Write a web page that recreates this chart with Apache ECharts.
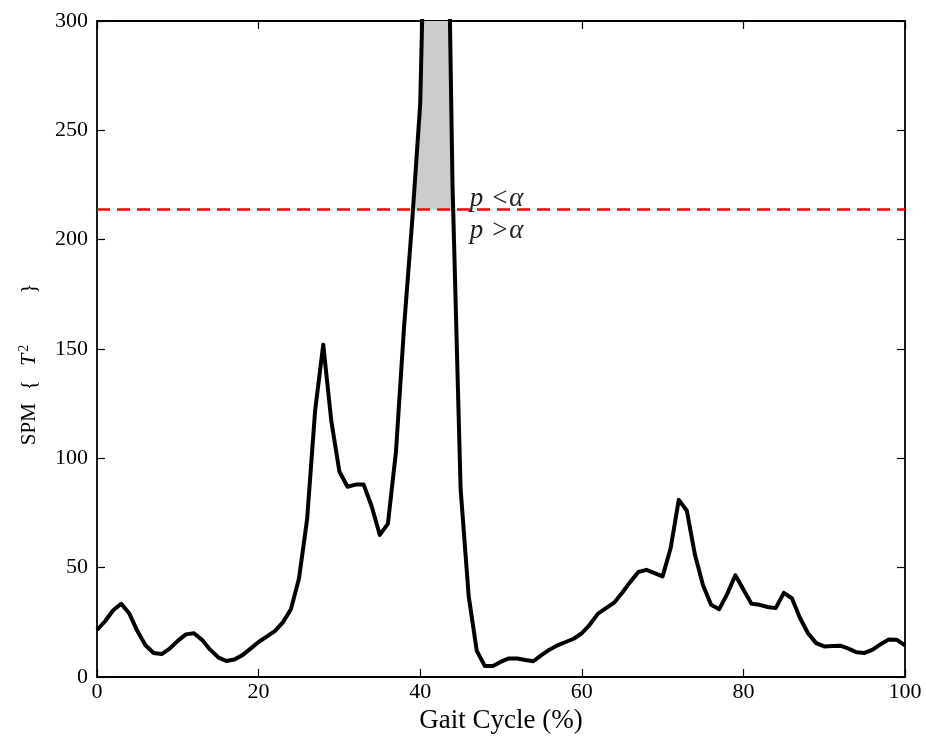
<!DOCTYPE html>
<html>
<head>
<meta charset="utf-8">
<script src="https://cdn.jsdelivr.net/npm/echarts@6/dist/echarts.min.js"></script>
<style>
html, body { margin: 0; padding: 0; background: #fff; }
#chart { width: 926px; height: 744px; }
</style>
</head>
<body>
<div id="chart"></div>
<script>
// SPM{T^2} trajectory, one value per 1% of gait cycle (0..100)
const spmT2 = [
  21.5, 25.5, 30.5, 33.5, 29, 21, 14.5, 11, 10.5, 13,
  16.5, 19.5, 20, 17, 12.5, 9, 7.3, 8, 10, 13,
  16, 18.5, 21, 25, 31, 45, 72, 122, 152, 117,
  94, 87, 88, 88, 78, 65, 70, 103, 160, 208,
  262, 420, 520, 460, 225, 86, 37, 12, 5, 5,
  7, 8.5, 8.5, 7.8, 7.2, 10, 12.5, 14.5, 16, 17.5,
  20, 24, 29, 31.5, 34, 38.5, 43.5, 48, 49, 47.5,
  46, 59, 81, 76, 56, 42, 33, 31, 38, 46.5,
  40, 33.5, 33, 32, 31.5, 38.5, 36, 27, 20, 15.5,
  14, 14.2, 14.3, 13, 11.3, 11, 12.5, 15, 17.2, 17,
  14.5
];
const criticalThreshold = 213.7;
const xTicks = [0, 20, 40, 60, 80, 100];
const yTicks = [0, 50, 100, 150, 200, 250, 300];

const serif = 'Liberation Serif';
const chart = echarts.init(document.getElementById('chart'));

const curve = spmT2.map((v, i) => [i, v]);

// supra-threshold cluster: curve points above threshold, closed with interpolated crossings
let cluster = [];
for (let i = 0; i < spmT2.length; i++) {
    const v = spmT2[i];
    if (v > criticalThreshold) {
        if (i > 0 && spmT2[i - 1] <= criticalThreshold) {
            const p = spmT2[i - 1];
            cluster.push([i - 1 + (criticalThreshold - p) / (v - p), criticalThreshold]);
        }
        cluster.push([i, v]);
        if (i < spmT2.length - 1 && spmT2[i + 1] <= criticalThreshold) {
            const n = spmT2[i + 1];
            cluster.push([i + (v - criticalThreshold) / (v - n), criticalThreshold]);
        }
    }
}

const tickStyle = { show: true, inside: true, length: 8, lineStyle: { color: '#000', width: 1.2 } };
const lineAxis = { show: true, onZero: false, lineStyle: { color: '#000', width: 1.8 } };

function xAxisBase(pos, showLabel) {
    return {
        type: 'value', position: pos,
        min: xTicks[0], max: xTicks[xTicks.length - 1], interval: xTicks[1] - xTicks[0],
        axisLine: lineAxis, axisTick: tickStyle,
        axisLabel: { show: showLabel, color: '#000', fontFamily: serif, fontSize: 22, margin: 4 },
        splitLine: { show: false }
    };
}
function yAxisBase(pos, showLabel) {
    return {
        type: 'value', position: pos,
        min: yTicks[0], max: yTicks[yTicks.length - 1], interval: yTicks[1] - yTicks[0],
        axisLine: lineAxis, axisTick: tickStyle,
        axisLabel: { show: showLabel, color: '#000', fontFamily: serif, fontSize: 22, margin: 9 },
        splitLine: { show: false }
    };
}

const xBottom = Object.assign(xAxisBase('bottom', true), {
    name: 'Gait Cycle (%)', nameLocation: 'middle', nameGap: 27,
    nameTextStyle: { color: '#000', fontFamily: serif, fontSize: 27 }
});
const yLeft = Object.assign(yAxisBase('left', true), {
    name: 'SPM{g1|}{{g2|}{it|T}{sup|2}{g3|}}',
    nameLocation: 'middle', nameGap: 56,
    nameTextStyle: {
        color: '#000', fontFamily: serif, fontSize: 21, padding: [0, 31, 0, 0],
        rich: {
            g1: { width: 13 },
            g2: { width: 14 },
            g3: { width: 51 },
            it: { fontFamily: serif, fontSize: 22, fontStyle: 'italic', color: '#000' },
            sup: { fontFamily: serif, fontSize: 14, color: '#000', verticalAlign: 'top', padding: [0, 0, 10, 2] }
        }
    }
});

const labelRich = {
    it: { fontFamily: serif, fontStyle: 'italic', fontSize: 27, color: '#222' },
    op: { fontFamily: serif, fontSize: 27, color: '#222', padding: [0, 2, 0, 9] }
};

chart.setOption({
    animation: false,
    backgroundColor: '#fff',
    grid: { left: 97, right: 21, top: 21, bottom: 67, containLabel: false },
    xAxis: [xBottom, xAxisBase('top', false)],
    yAxis: [yLeft, yAxisBase('right', false)],
    series: [
        {
            name: 'cluster', type: 'line', data: cluster,
            symbol: 'none', silent: true, z: 1,
            lineStyle: { width: 0 },
            areaStyle: { color: '#cccccc', opacity: 1, origin: criticalThreshold }
        },
        {
            name: 'threshold', type: 'line', data: [], silent: true, z: 2,
            markLine: {
                silent: true, symbol: ['none', 'none'],
                label: { show: false },
                lineStyle: { color: '#ff0000', width: 2.5, type: [13, 7] },
                data: [{ yAxis: criticalThreshold }]
            },
            markPoint: {
                silent: true, symbol: 'circle', symbolSize: 0,
                data: [
                    { coord: [45.5, criticalThreshold],
                      label: { show: true, position: 'right', offset: [0, -11], formatter: '{it|p}{op|<}{it|α}', rich: labelRich } },
                    { coord: [45.5, criticalThreshold],
                      label: { show: true, position: 'right', offset: [0, 21], formatter: '{it|p}{op|>}{it|α}', rich: labelRich } }
                ]
            }
        },
        {
            name: 'SPM', type: 'line', data: curve,
            symbol: 'none', silent: true, z: 3, clip: true,
            lineStyle: { color: '#000', width: 4, join: 'round' }
        }
    ]
});
</script>
</body>
</html>
